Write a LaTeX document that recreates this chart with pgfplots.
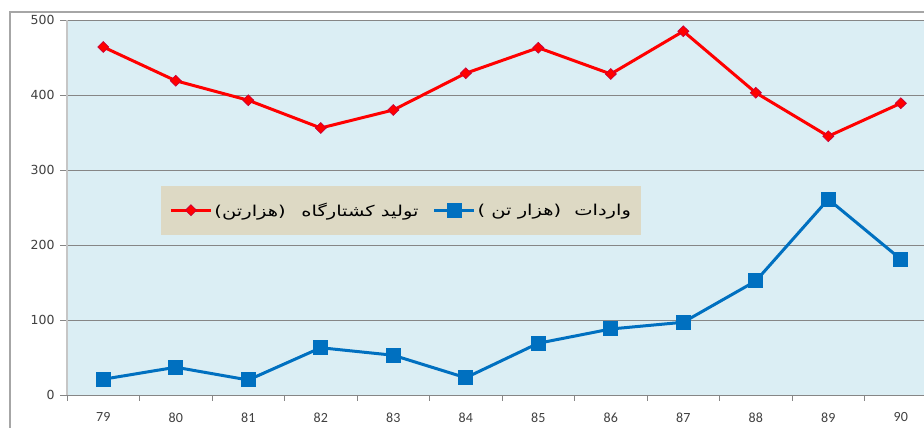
\documentclass[border=0pt]{standalone}
\usepackage{fontspec}
\usepackage{graphicx}
\setmainfont{DejaVu Sans}
\newfontfamily\arabicfont[Script=Arabic]{DejaVu Sans}
\newfontfamily\xfont{Carlito}
\TeXXeTstate=1
\usepackage{pgfplots}
\pgfplotsset{compat=1.18}

\definecolor{bgblue}{HTML}{DBEEF4}
\definecolor{legbg}{HTML}{DDD9C4}
\definecolor{gridgray}{HTML}{868686}
\definecolor{redline}{HTML}{FF0000}
\definecolor{blueline}{HTML}{0070C0}

\begin{document}
\begin{tikzpicture}[x=1pt,y=1pt]
\path[use as bounding box] (0,0) rectangle (924,428);
\draw[gray!70, line width=1.2pt] (10,-5) -- (10,416) -- (930,416);
\begin{axis}[
    at={(67pt,33pt)}, anchor=south west,
    scale only axis,
    width=857pt, height=375pt,
    xmin=78.5, xmax=90.32,
    ymin=0, ymax=500,
    xtick={79,...,90},
    minor xtick={78.5,79.5,...,89.5},
    ytick={0,100,...,500},
    axis background/.style={fill=bgblue},
    axis x line*=bottom,
    axis y line*=left,
    x axis line style={draw=none},
    y axis line style={draw=gray!45, line width=1.8pt},
    tick align=outside,
    major x tick style={draw=none},
    minor x tick style={draw=gridgray, line width=0.6pt},
    minor tick length=6pt,
    major y tick style={draw=gridgray, line width=0.8pt},
    major tick length=7pt,
    ymajorgrids,
    grid style={draw=gridgray, line width=0.9pt},
    /pgf/number format/assume math mode=true,
    xticklabel style={font=\xfont\fontsize{14}{16}\selectfont, text=black!75, yshift=-7pt},
    yticklabel style={font=\fontsize{12.5}{15}\selectfont, text=black!75, xshift=-2pt},
    legend columns=2,
    legend style={
        at={(rel axis cs:0.11,0.427)}, anchor=south west,
        fill=legbg, draw=none,
        inner xsep=8pt, inner ysep=15pt,
        font=\arabicfont\fontsize{15}{17}\selectfont,
        /tikz/every even column/.append style={column sep=12pt},
    },
    legend image code/.code={
        \draw[mark repeat=2, mark phase=2]
        plot coordinates {(0pt,0pt) (20pt,0pt) (40pt,0pt)};
    },
    clip=false,
]
\addplot[color=redline, line width=3pt, mark=diamond*, mark size=5.5pt,
    mark options={fill=redline, draw=redline!75!blue, line width=0.6pt, xscale=1.35}] coordinates {
    (79,464) (80,419) (81,393) (82,356) (83,380) (84,429)
    (85,463) (86,428) (87,485) (88,403) (89,345) (90,389)
};
\addlegendentry{\scalebox{1.3}[1]{\beginR تولید کشتارگاه\hspace{12pt}(هزارتن)\endR}}

\addplot[color=blueline, line width=3pt, mark=square*, mark size=6pt,
    mark options={fill=blueline, draw=blueline}] coordinates {
    (79,21) (80,37) (81,20) (82,63) (83,53) (84,23)
    (85,69) (86,88) (87,97) (88,152) (89,261) (90,181)
};
\addlegendentry{\scalebox{1.3}[1]{\beginR واردات\hspace{10pt}(هزار تن )\endR}}
\end{axis}
\end{tikzpicture}
\end{document}
